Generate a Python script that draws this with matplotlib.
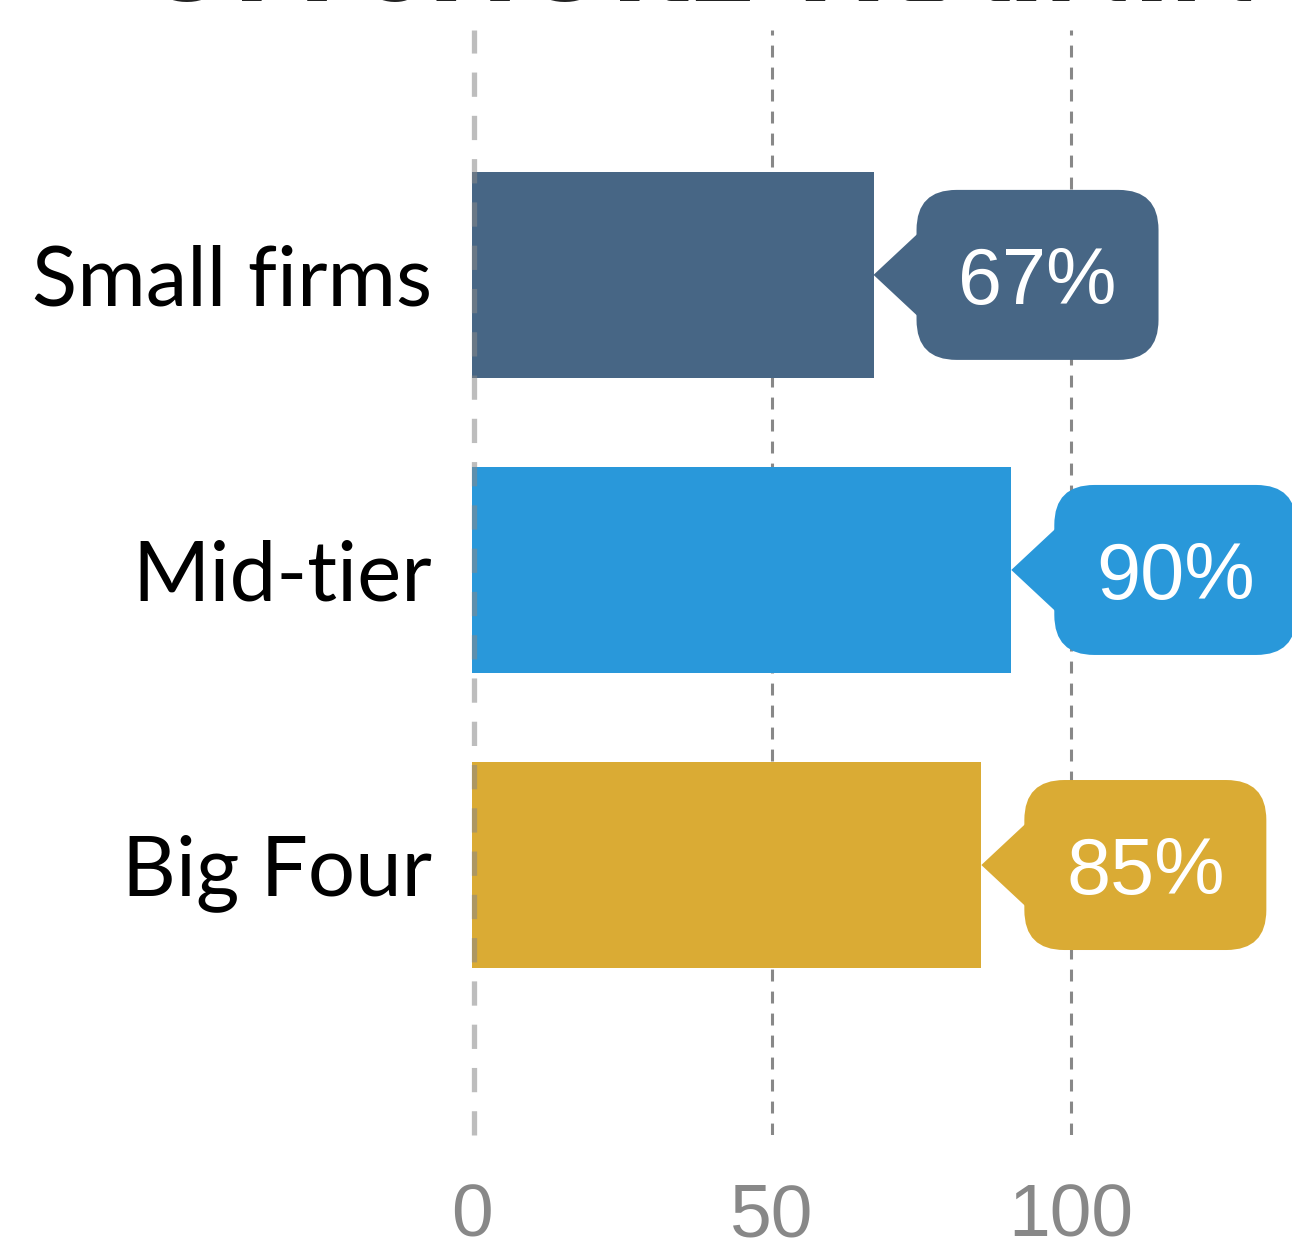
import matplotlib
matplotlib.use("Agg")
import matplotlib.pyplot as plt
from matplotlib.patches import FancyBboxPatch, Polygon
from matplotlib.transforms import IdentityTransform

categories = ["Small firms", "Mid-tier", "Big Four"]
values = [67, 90, 85]
labels = ["67%", "90%", "85%"]
colors = ["#476685", "#2998DA", "#DAAB34"]
xticks = [0, 50, 100]
title = "OFFSHORE TRAINING"

W, H = 1292, 1244
fig = plt.figure(figsize=(W / 100, H / 100), dpi=100)
ax_left, ax_right = 471 / W, 1.0
ax_bottom, ax_top = 1 - 1135 / H, 1 - 30 / H
ax = fig.add_axes([ax_left, ax_bottom, ax_right - ax_left, ax_top - ax_bottom])

ypos = list(range(len(categories)))
ax.barh(ypos, values, height=0.7, color=colors, zorder=2)
ax.set_xlim(-0.2, (1292 - 471) / 5.99 - 0.2)
ax.set_ylim(2.915, -0.83)

for s in ax.spines.values():
    s.set_visible(False)

ax.set_xticks(xticks)
ax.set_xticklabels([str(t) for t in xticks], fontsize=54, color="#888888",
                   family="Liberation Sans")
ax.tick_params(axis="x", length=0, pad=34)
ax.set_yticks(ypos)
ax.set_yticklabels(categories, fontsize=60, color="black", family="Lato")
ax.tick_params(axis="y", length=0, pad=28)
for lab in ax.get_yticklabels():
    lab.set_verticalalignment("center_baseline")

for t in xticks[1:]:
    ax.axvline(t, color="#888888", lw=2.2, ls=(0, (3.9, 3.3)), zorder=1)
ax.axvline(0.3, color="#888888", alpha=0.55, lw=3.8, ls=(0, (4.6, 3.6)),
           zorder=3, clip_on=False)

fig.canvas.draw()
gap, bw, bh, rad, half = 43, 242, 170, 40, 42
for y, v, lab, c in zip(ypos, values, labels, colors):
    tx, ty = ax.transData.transform((v, y))
    left = tx + gap
    box = FancyBboxPatch((left, ty - bh / 2), bw, bh,
                         boxstyle=f"round,pad=0,rounding_size={rad}",
                         transform=IdentityTransform(), facecolor=c,
                         edgecolor="none", zorder=4, clip_on=False)
    fig.patches.append(box)
    tri = Polygon([(tx, ty), (left + 2, ty + half), (left + 2, ty - half)],
                  closed=True, transform=IdentityTransform(), facecolor=c,
                  edgecolor="none", zorder=4, clip_on=False)
    fig.patches.append(tri)
    fig.text((left + bw / 2) / W, ty / H, lab, color="white", fontsize=57,
             family="Liberation Sans", ha="center", va="center_baseline", zorder=5)

fig.text(140 / W, 1 - 1 / H, title, fontsize=83, color="#222222",
         family="Lato", fontweight="heavy", ha="left", va="baseline")

fig.savefig("out.png", dpi=100)
